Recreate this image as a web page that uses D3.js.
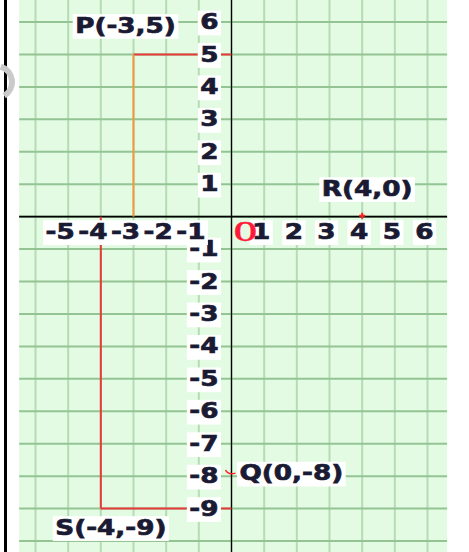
<!DOCTYPE html>
<html>
<head>
<meta charset="utf-8">
<script src="https://cdn.jsdelivr.net/npm/d3@7"></script>
<style>
html,body{margin:0;padding:0;background:#fff;}
svg{display:block;}
</style>
</head>
<body>
<svg id="chart" width="469" height="552"></svg>
<script>
// ---- data ----
const xTicksNeg = [-5, -4, -3, -2, -1];
const xTicksPos = [1, 2, 3, 4, 5, 6];
const yTicks = [6, 5, 4, 3, 2, 1, -1, -2, -3, -4, -5, -6, -7, -8, -9];
const gridX = d3.range(-6, 7);
const gridY = d3.range(-10, 7);
const pointNames = ["P", "Q", "R", "S"];
const pointX = [-3, 0, 4, -4];
const pointY = [5, -8, 0, -9];
const panelX = [-6.5, 6.6];
const panelY = [6.7, -10.4];

// ---- scales ----
const x = d3.scaleLinear().domain([-6, 6]).range([35.5, 427.5]);
const y = d3.scaleLinear().domain([6, -10]).range([22, 541]);

const svg = d3.select("#chart");
const FONT = "'DejaVu Sans', Verdana, sans-serif";
const INK = "#1a1a33";
const SX = 1.25;

// left black border
svg.append("line").attr("x1", 5.5).attr("x2", 5.5).attr("y1", 0).attr("y2", 552)
  .attr("stroke", "#000").attr("stroke-width", 3);

// watermark fragment
svg.append("path")
  .attr("d", d3.arc()({innerRadius: 13, outerRadius: 19, startAngle: 0.3, endAngle: 2.6}))
  .attr("transform", "translate(-4,82)")
  .attr("fill", "#cacaca");

// green panel
svg.append("rect")
  .attr("x", x(panelX[0])).attr("y", y(panelY[0]))
  .attr("width", x(panelX[1]) - x(panelX[0]))
  .attr("height", y(panelY[1]) - y(panelY[0]))
  .attr("fill", "#e2fbe2");

// grid
svg.append("g").selectAll("line").data(gridX).join("line")
  .attr("x1", d => x(d)).attr("x2", d => x(d))
  .attr("y1", y(panelY[0])).attr("y2", y(panelY[1]))
  .attr("stroke", "#b6dcb6").attr("stroke-width", 2);
svg.append("g").selectAll("line").data(gridY).join("line")
  .attr("x1", x(panelX[0])).attr("x2", x(panelX[1]))
  .attr("y1", d => y(d)).attr("y2", d => y(d))
  .attr("stroke", "#94c494").attr("stroke-width", 2);

// axes
svg.append("line").attr("x1", x(panelX[0])).attr("x2", x(panelX[1]))
  .attr("y1", y(0)).attr("y2", y(0)).attr("stroke", "#000").attr("stroke-width", 1.6);
svg.append("line").attr("x1", x(0)).attr("x2", x(0))
  .attr("y1", y(panelY[0])).attr("y2", y(panelY[1])).attr("stroke", "#000").attr("stroke-width", 1.3);

// helper: label with white box
function label(px, py, txt, opts = {}) {
  const sx = opts.sx || SX;
  const g = svg.append("g").attr("transform", `translate(${px},${py}) scale(${sx},1)`);
  const rect = g.append("rect").attr("fill", "#fff");
  const t = g.append("text").text(txt)
    .attr("font-family", opts.family || FONT)
    .attr("font-weight", "bold")
    .attr("font-size", opts.size || 21)
    .attr("fill", opts.fill || INK)
    .attr("stroke", opts.fill || INK)
    .attr("stroke-width", opts.stroke == null ? 0.7 : opts.stroke)
    .attr("text-anchor", opts.anchor || "middle")
    .attr("dominant-baseline", "central");
  const b = t.node().getBBox();
  const p = opts.pad == null ? 2.5 : opts.pad;
  if (opts.box !== false) {
    rect.attr("x", b.x - p / sx).attr("y", b.y + 1)
      .attr("width", b.width + 2 * p / sx).attr("height", b.height);
  } else rect.remove();
  return g;
}

// guide lines
const P = 0, Q = 1, R = 2, S = 3;
svg.append("line").attr("x1", x(pointX[P])).attr("x2", x(0))
  .attr("y1", y(pointY[P])).attr("y2", y(pointY[P]))
  .attr("stroke", "#e83a3a").attr("stroke-width", 2);
svg.append("line").attr("x1", x(pointX[P])).attr("x2", x(pointX[P]))
  .attr("y1", y(pointY[P])).attr("y2", y(0))
  .attr("stroke", "#f5983a").attr("stroke-width", 2);
svg.append("line").attr("x1", x(pointX[S])).attr("x2", x(pointX[S]))
  .attr("y1", y(0)).attr("y2", y(pointY[S]))
  .attr("stroke", "#e83a3a").attr("stroke-width", 2);
svg.append("line").attr("x1", x(pointX[S])).attr("x2", x(0))
  .attr("y1", y(pointY[S])).attr("y2", y(pointY[S]))
  .attr("stroke", "#e83a3a").attr("stroke-width", 2);

// y tick labels
yTicks.forEach(v => {
  label(x(0) - 13, y(v), String(v), {anchor: "end"});
});
// x tick labels
xTicksNeg.forEach(v => {
  label(x(v) - 8, y(0) + 15, String(v));
});
xTicksPos.forEach(v => {
  label(x(v) - 3, y(0) + 15, String(v));
});
// origin
label(x(0) + 14, y(0) + 14, "O", {family: "'Liberation Serif', serif", size: 30, fill: "#ff1a3a", sx: 1, box: false, stroke: 0.3});

// point markers
svg.append("path")
  .attr("d", `M${x(pointX[R]) - 3},${y(pointY[R]) - 1} L${x(pointX[R]) + 3},${y(pointY[R]) - 1} M${x(pointX[R])},${y(pointY[R]) - 4} L${x(pointX[R])},${y(pointY[R]) + 2}`)
  .attr("stroke", "#ff2020").attr("stroke-width", 2);
svg.append("path")
  .attr("d", `M${x(pointX[Q]) - 6},${y(pointY[Q]) - 6} Q${x(pointX[Q]) - 3},${y(pointY[Q]) - 1} ${x(pointX[Q]) + 4},${y(pointY[Q]) - 3}`)
  .attr("fill", "none").attr("stroke", "#ff2020").attr("stroke-width", 1.5);

// point labels
const lab = i => `${pointNames[i]}(${pointX[i]},${pointY[i]})`;
label(x(pointX[P]) - 8, y(pointY[P]) - 29, lab(P));
label(x(pointX[R]) + 5, y(pointY[R]) - 28, lab(R));
label(x(pointX[Q]) + 8, y(pointY[Q]) - 3, lab(Q), {anchor: "start"});
label(x(pointX[S]) + 10, y(pointY[S]) + 19, lab(S));
</script>
</body>
</html>
